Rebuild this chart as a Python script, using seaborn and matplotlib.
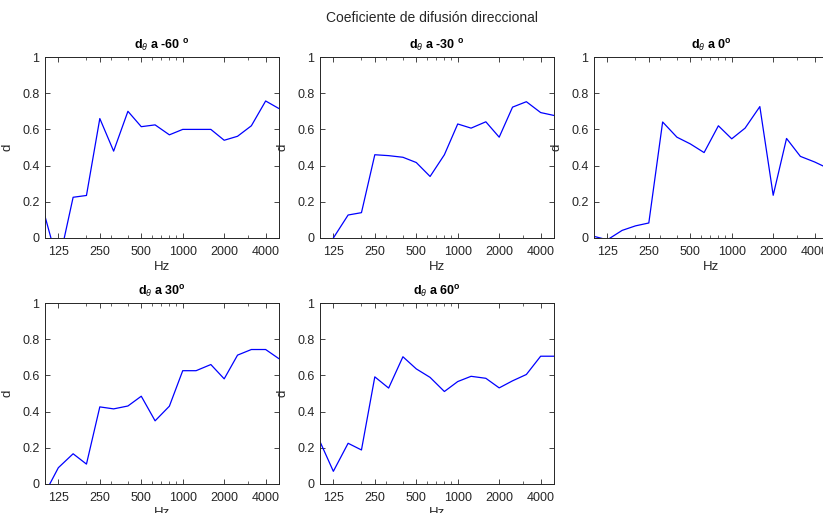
import numpy as np
import pandas as pd
import matplotlib
matplotlib.use("Agg")
import matplotlib.pyplot as plt
from matplotlib.ticker import FixedLocator, LogLocator, NullFormatter
import seaborn as sns

# Third-octave band centre frequencies (Hz)
freqs = [100, 125, 160, 200, 250, 315, 400, 500, 630, 800,
         1000, 1250, 1600, 2000, 2500, 3150, 4000, 5000]

# Directional diffusion coefficient per incidence angle
d_m60 = [0.12, -0.15, 0.225, 0.235, 0.66, 0.48, 0.70, 0.615, 0.625, 0.57,
         0.60, 0.60, 0.60, 0.54, 0.562, 0.62, 0.757, 0.715]
d_m30 = [-0.2, 0.0, 0.127, 0.14, 0.46, 0.455, 0.446, 0.417, 0.34, 0.46,
         0.63, 0.607, 0.642, 0.557, 0.723, 0.753, 0.693, 0.677]
d_0 = [0.009, -0.01, 0.042, 0.067, 0.083, 0.641, 0.557, 0.52, 0.472, 0.62,
       0.548, 0.607, 0.726, 0.236, 0.55, 0.451, 0.42, 0.385]
d_30 = [-0.05, 0.09, 0.167, 0.11, 0.426, 0.415, 0.431, 0.485, 0.349, 0.43,
        0.626, 0.626, 0.66, 0.581, 0.712, 0.743, 0.743, 0.692]
d_60 = [0.234, 0.07, 0.225, 0.188, 0.592, 0.53, 0.703, 0.636, 0.589, 0.511,
        0.566, 0.595, 0.584, 0.531, 0.57, 0.605, 0.706, 0.706]

titles = [r"d$_\theta$ a -60 $^{\mathbf{o}}$", r"d$_\theta$ a -30 $^{\mathbf{o}}$",
          r"d$_\theta$ a 0$^{\mathbf{o}}$", r"d$_\theta$ a 30$^{\mathbf{o}}$",
          r"d$_\theta$ a 60$^{\mathbf{o}}$"]
series = [d_m60, d_m30, d_0, d_30, d_60]

xticks = [125, 250, 500, 1000, 2000, 4000]
yticks = [0, 0.2, 0.4, 0.6, 0.8, 1]
ytick_labels = ["0", "0.2", "0.4", "0.6", "0.8", "1"]

sns.set_theme(style="ticks")
plt.rcParams["font.family"] = ["Liberation Sans", "DejaVu Sans"]
plt.rcParams["mathtext.fontset"] = "custom"
plt.rcParams["mathtext.rm"] = "Liberation Sans"
plt.rcParams["mathtext.it"] = "Liberation Sans:italic"
plt.rcParams["mathtext.bf"] = "Liberation Sans:bold"

W, H = 823, 513
fig = plt.figure(figsize=(W / 100, H / 100), dpi=100)

ink = "#262626"
aw, ah = 234, 181
lefts = [45, 320, 594]
bottoms = [238, 484]
positions = [(lefts[0], bottoms[0]), (lefts[1], bottoms[0]), (lefts[2], bottoms[0]),
             (lefts[0], bottoms[1]), (lefts[1], bottoms[1])]

for (lx, by), title, vals in zip(positions, titles, series):
    ax = fig.add_axes([lx / W, (H - by) / H, aw / W, ah / H])
    df = pd.DataFrame({"Hz": freqs, "d": vals})
    sns.lineplot(data=df, x="Hz", y="d", ax=ax, color=(0, 0, 1), linewidth=0.9)
    ax.set_xscale("log")
    ax.set_xlim(100, 5000)
    ax.set_ylim(0, 1)
    ax.xaxis.set_major_locator(FixedLocator(xticks))
    ax.set_xticklabels([str(t) for t in xticks])
    ax.xaxis.set_minor_locator(LogLocator(base=10, subs=range(2, 10)))
    ax.xaxis.set_minor_formatter(NullFormatter())
    ax.set_yticks(yticks)
    ax.set_yticklabels(ytick_labels)
    ax.tick_params(axis="both", which="major", direction="in", length=3.5, width=0.6,
                   top=True, right=True, labelsize=9, colors=ink)
    ax.tick_params(axis="x", which="major", pad=6)
    ax.tick_params(axis="y", which="major", pad=4)
    ax.tick_params(axis="both", which="minor", direction="in", length=2, width=0.5,
                   top=True, right=True)
    for s in ax.spines.values():
        s.set_linewidth(0.7)
        s.set_color(ink)
    ax.set_xlabel("Hz", fontsize=9.5, color=ink, labelpad=2)
    ax.set_ylabel("d", fontsize=9.5, color=ink, labelpad=6)
    ax.set_title(title, fontsize=9, fontweight="bold", color="black", pad=5)

fig.text(0.525, 1 - 18 / H, "Coeficiente de difusión direccional",
         ha="center", va="center", fontsize=10, color=ink)

fig.savefig("out.png", dpi=100, facecolor="white")
